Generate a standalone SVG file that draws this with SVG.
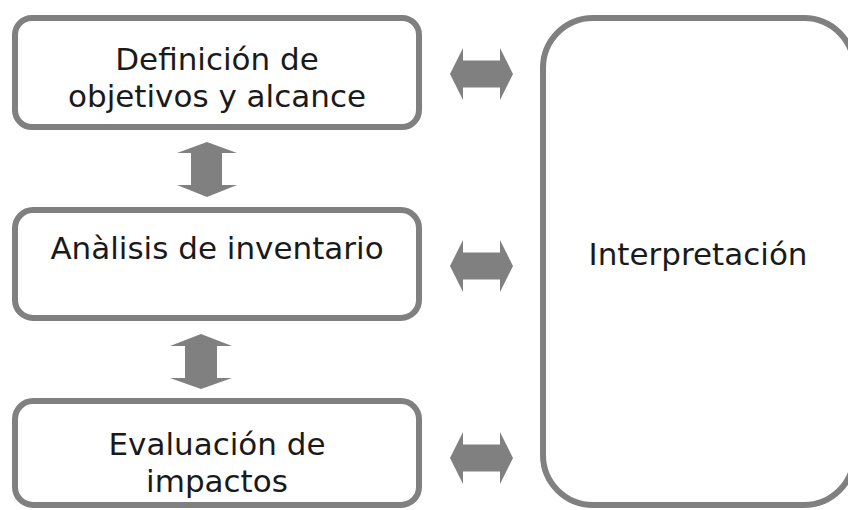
<svg xmlns="http://www.w3.org/2000/svg" width="848" height="510" viewBox="0 0 848 510">
<style>
.box{fill:#ffffff;stroke:#808080;stroke-width:6}
.arr{fill:#808080}
.t{font-family:"DejaVu Sans","Verdana",sans-serif;font-size:31px;fill:#1a1a1a;text-anchor:middle}
</style>
<rect width="848" height="510" fill="#ffffff"/>
<g id="node-definicion">
<rect class="box" x="15" y="18" width="404" height="109" rx="17"/>
<text class="t" x="217" y="70">Definición de</text>
<text class="t" x="217" y="107">objetivos y alcance</text>
</g>
<g id="node-analisis">
<rect class="box" x="15" y="210" width="404" height="108" rx="18"/>
<text class="t" x="217" y="259">Anàlisis de inventario</text>
</g>
<g id="node-evaluacion">
<rect class="box" x="15" y="401" width="404" height="104" rx="18"/>
<text class="t" x="217" y="455">Evaluación de</text>
<text class="t" x="217" y="492">impactos</text>
</g>
<g id="node-interpretacion">
<rect class="box" x="543" y="18" width="311" height="487" rx="50"/>
<text class="t" x="698" y="265">Interpretación</text>
</g>
<g id="connectors">
<polygon class="arr" points="450,74 463,48 463,60.5 500,60.5 500,48 513,74 500,100 500,87.5 463,87.5 463,100"/>
<polygon class="arr" points="450,266 463,240 463,252.5 500,252.5 500,240 513,266 500,292 500,279.5 463,279.5 463,292"/>
<polygon class="arr" points="450,458 463,432 463,444.5 500,444.5 500,432 513,458 500,484 500,471.5 463,471.5 463,484"/>
<polygon class="arr" points="207,142 237,153 222,153 222,185 237,185 207,197 177,185 191,185 191,153 177,153"/>
<polygon class="arr" points="201,334 232,346 217,346 217,378 232,378 201,389 170,378 185,378 185,346 170,346"/>
</g>
</svg>
